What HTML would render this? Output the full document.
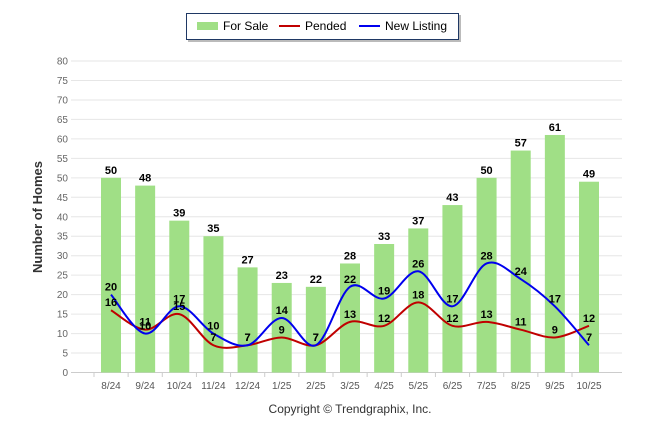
<!DOCTYPE html>
<html><head><meta charset="utf-8"><style>
body{margin:0;background:#fff;font-family:"Liberation Sans",Arial,sans-serif}
svg text{font-family:"Liberation Sans",Arial,sans-serif}
</style></head><body>
<svg id="chart" width="646" height="434" viewBox="0 0 646 434">
<g>
<rect x="188" y="15" width="273" height="27" fill="#bbb"/>
<rect x="186.5" y="13.5" width="272" height="26" fill="#fff" stroke="#1f3864" stroke-width="1"/>
<rect x="197" y="22" width="21" height="8" fill="#a0df86"/>
<text x="223" y="30" font-size="12" fill="#000">For Sale</text>
<line x1="279" y1="26" x2="300" y2="26" stroke="#c00000" stroke-width="2"/>
<text x="305" y="30" font-size="12" fill="#000">Pended</text>
<line x1="359" y1="26" x2="380" y2="26" stroke="#0000ee" stroke-width="2"/>
<text x="385" y="30" font-size="12" fill="#000">New Listing</text>
</g>
<text transform="translate(42,217) rotate(-90)" text-anchor="middle" font-size="13" font-weight="bold" fill="#333">Number of Homes</text>
<text x="350" y="413" text-anchor="middle" font-size="12" fill="#333">Copyright © Trendgraphix, Inc.</text>
<g id="grid"></g><g id="bars"></g><g id="lines"></g><g id="labels"></g>
</svg>
<script>
const categories=["8/24","9/24","10/24","11/24","12/24","1/25","2/25","3/25","4/25","5/25","6/25","7/25","8/25","9/25","10/25"];
const forSale=[50,48,39,35,27,23,22,28,33,37,43,50,57,61,49];
const pended=[16,11,15,7,7,9,7,13,12,18,12,13,11,9,12];
const newListing=[20,10,17,10,7,14,7,22,19,26,17,28,24,17,7];
const yTicks=[0,5,10,15,20,25,30,35,40,45,50,55,60,65,70,75,80];
const NS="http://www.w3.org/2000/svg";
function y(v){return 372.5-v*(311.5/80);}
function x(i){return 111+i*(478/14);}
function mk(tag,attrs,parent){const e=document.createElementNS(NS,tag);for(const k in attrs)e.setAttribute(k,attrs[k]);parent.appendChild(e);return e;}
const grid=document.getElementById('grid'),bars=document.getElementById('bars'),lines=document.getElementById('lines'),labels=document.getElementById('labels');
yTicks.forEach(t=>{
 const l=mk('line',{x1:71,x2:622,y1:y(t),y2:y(t),stroke:t===0?'#ccc':'#e6e6e6','stroke-width':1},grid);
 
 
 const tx=mk('text',{x:68,y:y(t)+3.5,'text-anchor':'end','font-size':10,fill:'#666'},grid);
 tx.textContent=t;
 
 
});
categories.forEach((c,i)=>{
 const tk=mk('line',{x1:x(i)-17,x2:x(i)-17,y1:372.5,y2:377,stroke:'#ccc'},grid);
 
 
 const tx=mk('text',{x:x(i),y:389,'text-anchor':'middle','font-size':10,fill:'#555'},grid);
 tx.textContent=c;
 
 
 const b=mk('rect',{x:x(i)-10,y:y(forSale[i]),width:20,height:y(0)-y(forSale[i]),fill:'#a0df86'},bars);
 
 
 const bl=mk('text',{x:x(i),y:y(forSale[i])-4,'text-anchor':'middle','font-size':11,'font-weight':'bold',fill:'#000'},labels);
 bl.textContent=forSale[i];
 
 
});
function path(vals){
 const p=vals.map((v,i)=>[x(i),y(v)]);let d='M'+p[0][0]+','+p[0][1];
 for(let i=0;i<p.length-1;i++){const p0=p[i-1]||p[i],p1=p[i],p2=p[i+1],p3=p[i+2]||p2;
  d+=' C'+(p1[0]+(p2[0]-p0[0])/6)+','+(p1[1]+(p2[1]-p0[1])/6)+' '+(p2[0]-(p3[0]-p1[0])/6)+','+(p2[1]-(p3[1]-p1[1])/6)+' '+p2[0]+','+p2[1];}
 return d;}
const pp=mk('path',{d:path(pended),fill:'none',stroke:'#c00000','stroke-width':2},lines);


const np=mk('path',{d:path(newListing),fill:'none',stroke:'#0000ee','stroke-width':2},lines);


categories.forEach((c,i)=>{
 const a=mk('text',{x:x(i),y:y(pended[i])-4,'text-anchor':'middle','font-size':11,'font-weight':'bold',fill:'#000'},labels);
 a.textContent=pended[i];
 
 
 const b=mk('text',{x:x(i),y:y(newListing[i])-4,'text-anchor':'middle','font-size':11,'font-weight':'bold',fill:'#000'},labels);
 b.textContent=newListing[i];
 
 
});
</script>
</body></html>
